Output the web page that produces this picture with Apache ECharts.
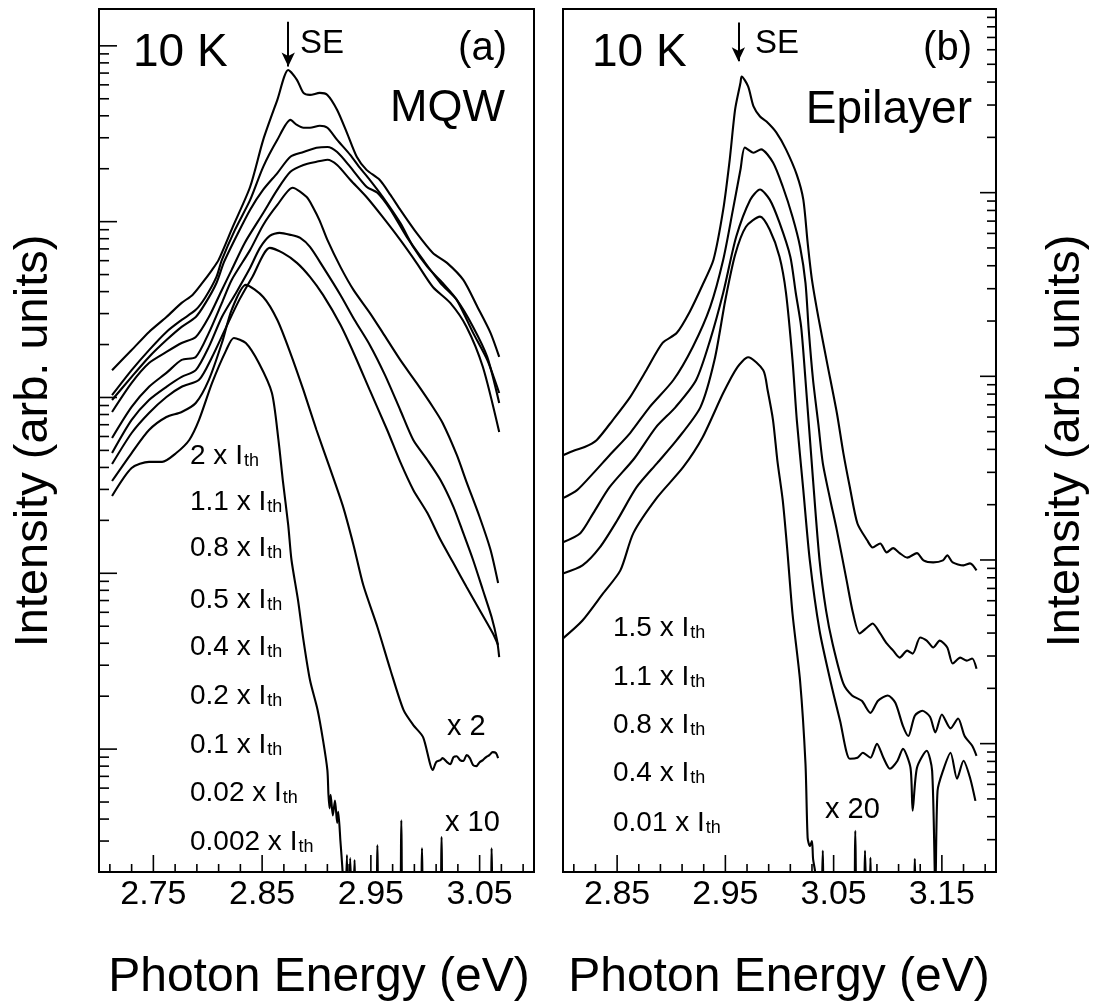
<!DOCTYPE html>
<html>
<head>
<meta charset="utf-8">
<script src="https://cdn.jsdelivr.net/npm/echarts@6/dist/echarts.min.js"></script>
<style>
html,body{margin:0;padding:0;background:#fff;}
#chart{width:1099px;height:1004px;}
</style>
</head>
<body>
<div id="chart"></div>
<script>
// ---------------- DATA (photon energy in eV, intensity in arb. units) ----------------
// Panel (a): MQW, 10 K
const mqw_2x = [[2.712,1430],[2.730,1860],[2.746,2360],[2.762,2870],[2.776,3450],[2.786,3830],[2.795,4480],[2.804,5320],[2.810,6060],[2.823,9340],[2.839,15800],[2.851,29200],[2.864,49300],[2.874,72900],[2.882,64100],[2.888,54000],[2.894,52600],[2.903,54000],[2.910,52600],[2.919,43200],[2.928,32000],[2.937,23400],[2.946,19700],[2.958,17300],[2.968,14200],[2.977,11700],[2.992,8630],[3.007,6640],[3.020,5830],[3.035,4660],[3.048,3270],[3.060,2330],[3.068,1700]];
const mqw_1p1x = [[2.712,1030],[2.730,1430],[2.746,1860],[2.762,2360],[2.776,2760],[2.789,3150],[2.798,3730],[2.808,4850],[2.813,6060],[2.825,8980],[2.839,13300],[2.851,20500],[2.864,29200],[2.876,37900],[2.882,35500],[2.888,34200],[2.894,34200],[2.903,35100],[2.910,34200],[2.919,29200],[2.931,24000],[2.940,20200],[2.949,17300],[2.961,13800],[2.977,9840],[2.989,7180],[3.002,5530],[3.016,4480],[3.029,3590],[3.044,2330],[3.057,1635],[3.068,1060]];
const mqw_0p8x = [[2.712,968],[2.730,1310],[2.746,1700],[2.762,2120],[2.776,2520],[2.789,2870],[2.798,3450],[2.808,4480],[2.815,5900],[2.827,8410],[2.839,11700],[2.851,15200],[2.864,18900],[2.876,23400],[2.888,24900],[2.900,26300],[2.910,26600],[2.919,24900],[2.931,20500],[2.946,15800],[2.956,14600],[2.968,11700],[2.983,8190],[2.998,6060],[3.014,4480],[3.029,3590],[3.044,2520],[3.057,1700],[3.068,930]];
const mqw_0p5x = [[2.712,827],[2.730,1210],[2.746,1570],[2.762,1815],[2.776,2040],[2.789,2210],[2.801,2870],[2.813,4090],[2.822,5320],[2.834,7570],[2.851,11200],[2.864,15200],[2.876,19200],[2.888,21000],[2.900,21900],[2.910,22500],[2.919,21000],[2.931,17300],[2.946,13800],[2.961,10600],[2.977,7870],[2.992,5830],[3.007,4250],[3.023,3450],[3.038,2520],[3.053,1490],[3.068,636]];
const mqw_0p4x = [[2.712,588],[2.730,883],[2.746,1150],[2.762,1380],[2.776,1635],[2.789,1700],[2.801,2330],[2.813,3450],[2.822,4660],[2.839,6910],[2.851,9580],[2.864,12450],[2.878,15600],[2.891,13800],[2.897,12000],[2.903,10100],[2.910,7870],[2.922,5530],[2.934,4090],[2.949,3030],[2.961,2330],[2.977,1635],[2.992,1210],[3.007,883],[3.016,716],[3.029,471],[3.038,330],[3.050,209],[3.060,136],[3.067,88]];
const mqw_0p2x = [[2.712,483],[2.730,745],[2.746,968],[2.762,1150],[2.776,1310],[2.789,1430],[2.801,1940],[2.813,2870],[2.826,3930],[2.838,5320],[2.848,7090],[2.857,8300],[2.866,8630],[2.876,8410],[2.885,8080],[2.894,7180],[2.906,5530],[2.922,3830],[2.935,2760],[2.949,1990],[2.963,1340],[2.977,849],[2.989,573],[3.002,441],[3.014,339],[3.026,238],[3.035,169],[3.044,119],[3.053,80.3],[3.061,56.4],[3.066,41.7],[3.068,33.4]];
const mqw_0p1x = [[2.712,418],[2.730,628],[2.746,816],[2.762,1006],[2.776,1150],[2.792,1260],[2.804,1700],[2.817,2520],[2.829,3590],[2.841,4850],[2.857,7090],[2.869,6640],[2.882,5830],[2.894,4850],[2.906,3830],[2.922,2590],[2.935,1745],[2.949,1100],[2.965,653],[2.977,430],[2.989,298],[3.002,220],[3.014,155],[3.026,114],[3.038,83.5],[3.050,61.8],[3.062,45.7],[3.067,39.1]];
// 0.02 x Ith, multiplied by 2
const mqw_0p02x = [[2.712,335],[2.730,483],[2.746,653],[2.762,774],[2.776,827],[2.789,930],[2.801,1260],[2.813,2040],[2.822,3150],[2.835,4370],[2.851,3730],[2.864,2760],[2.876,1790],[2.888,1100],[2.900,653],[2.912,402],[2.924,244],[2.934,145],[2.943,85.7],[2.956,49.5],[2.968,28.2],[2.980,16.7],[2.989,13.7],[2.998,11.7],[3.007,7.60],[3.010,8.43],[3.014,8.66],[3.016,8.89],[3.020,8.43],[3.023,8.20],[3.026,9.01],[3.029,9.10],[3.032,8.66],[3.035,8.55],[3.038,9.24],[3.041,8.89],[3.044,8.11],[3.047,8.00],[3.050,8.43],[3.053,8.66],[3.056,9.01],[3.059,9.24],[3.062,9.61],[3.065,9.50],[3.067,8.89]];
// 0.002 x Ith, multiplied by 10
const mqw_0p002x = [[2.712,275],[2.730,397],[2.746,430],[2.758,430],[2.771,483],[2.783,573],[2.792,745],[2.804,1210],[2.817,1860],[2.824,2180],[2.835,2040],[2.847,1570],[2.859,1060],[2.865,573],[2.869,339],[2.874,188],[2.877,119],[2.883,70.4],[2.888,41.7],[2.894,24.7],[2.901,16.7],[2.906,11.25],[2.910,7.6],[2.911,5.5],[2.912,4.6],[2.913,5.5],[2.915,4.2],[2.917,5.1],[2.919,3.8],[2.920,4.4],[2.922,3.0],[2.924,2.0],[2.926,1.0],[2.928,2.5],[2.929,1.0],[2.931,2.4],[2.933,1.0],[2.935,2.34],[2.937,1.0],[2.954,1.0],[2.956,2.84],[2.958,1.0],[2.976,1.0],[2.978,3.94],[2.980,1.0],[2.995,1.0],[2.997,2.73],[2.999,1.0],[3.013,1.0],[3.015,3.16],[3.017,1.0],[3.060,1.0],[3.061,2.73],[3.063,1.0],[3.068,1.0]];

// Panel (b): Epilayer, 10 K
const epi_1p5x = [[2.800,372],[2.811,396],[2.820,412],[2.831,449],[2.846,578],[2.862,771],[2.877,1080],[2.892,1520],[2.905,1720],[2.917,2240],[2.929,3150],[2.939,4310],[2.948,8080],[2.954,15100],[2.959,28400],[2.964,39800],[2.965,42900],[2.971,37900],[2.976,29500],[2.982,26000],[2.988,24400],[2.997,21300],[3.006,17200],[3.016,12500],[3.022,9160],[3.026,5340],[3.030,3350],[3.036,2080],[3.044,1180],[3.053,631],[3.059,382],[3.065,249],[3.072,158],[3.081,128],[3.086,117],[3.093,123],[3.099,110],[3.105,116],[3.111,109],[3.118,103],[3.127,109],[3.133,99.5],[3.142,97.0],[3.151,99.5],[3.155,106],[3.160,97.0],[3.170,93.4],[3.176,95.8],[3.182,87.8]];
const epi_1p1x = [[2.800,217],[2.813,240],[2.828,297],[2.843,372],[2.862,491],[2.880,680],[2.902,955],[2.920,1450],[2.936,2390],[2.948,4310],[2.957,8080],[2.964,13400],[2.968,17600],[2.976,16500],[2.983,17200],[2.994,14600],[3.003,10800],[3.012,7400],[3.019,5080],[3.024,3230],[3.027,1790],[3.031,955],[3.036,542],[3.040,337],[3.047,211],[3.053,145],[3.062,77.4],[3.068,51.1],[3.074,39.8],[3.081,42.9],[3.086,45.1],[3.093,39.8],[3.099,35.1],[3.105,32.1],[3.111,29.4],[3.118,32.1],[3.123,30.9],[3.130,37.8],[3.136,36.4],[3.142,33.4],[3.148,36.4],[3.155,33.4],[3.160,27.3],[3.167,29.4],[3.173,28.3],[3.178,29.1],[3.182,25.6]];
const epi_0p8x = [[2.800,125],[2.816,140],[2.828,180],[2.843,249],[2.866,358],[2.886,529],[2.904,680],[2.923,955],[2.936,1580],[2.948,2850],[2.960,5750],[2.973,9160],[2.982,10400],[2.991,9160],[3.000,6860],[3.010,4480],[3.015,2850],[3.020,1860],[3.024,955],[3.031,272],[3.037,99.5],[3.043,53.1],[3.049,35.1],[3.059,21.2],[3.067,18.3],[3.076,17.1],[3.084,14.7],[3.091,17.1],[3.100,18.3],[3.107,16.7],[3.114,12.5],[3.119,11.0],[3.125,14.2],[3.132,15.1],[3.139,14.0],[3.144,11.5],[3.150,14.4],[3.158,12.1],[3.165,13.7],[3.171,11.0],[3.178,9.74],[3.182,8.59]];
const epi_0p4x = [[2.800,84.5],[2.818,93.4],[2.834,117],[2.850,164],[2.868,249],[2.887,337],[2.905,449],[2.927,680],[2.940,1230],[2.950,2610],[2.959,4590],[2.969,6520],[2.982,7400],[2.991,6280],[3.000,4480],[3.006,2850],[3.012,1230],[3.016,578],[3.022,240],[3.028,99.5],[3.037,41.3],[3.047,22.0],[3.056,13.3],[3.065,8.27],[3.072,8.38],[3.077,8.92],[3.084,8.38],[3.090,9.99],[3.096,8.38],[3.102,7.30],[3.109,8.07],[3.114,9.38],[3.121,7.39],[3.123,4.31],[3.127,7.39],[3.136,9.15],[3.141,7.11],[3.144,1.6],[3.146,5.54],[3.151,7.11],[3.158,8.92],[3.164,6.44],[3.170,8.07],[3.176,6.52],[3.181,4.88]];
// 0.01 x Ith, multiplied by 20
const epi_0p01x = [[2.800,37.4],[2.818,46.8],[2.837,65.7],[2.853,87.8],[2.865,140],[2.887,219],[2.911,320],[2.929,466],[2.948,811],[2.961,1120],[2.971,1270],[2.985,1080],[2.989,842],[2.994,578],[2.998,349],[3.003,211],[3.007,117],[3.012,51.1],[3.019,22.0],[3.024,7.77],[3.026,3.07],[3.028,2.77],[3.030,2.95],[3.031,2.36],[3.033,1.98],[3.035,1.0],[3.038,1.0],[3.040,2.61],[3.042,1.0],[3.068,1.0],[3.070,3.35],[3.072,1.0],[3.077,1.0],[3.079,2.61],[3.081,1.0],[3.083,1.0],[3.084,2.39],[3.086,1.0],[3.123,1.0],[3.125,2.36],[3.127,1.0],[3.182,1.0]];

// Curve labels, tick labels, annotations
const labelsMQW = ['2', '1.1', '0.8', '0.5', '0.4', '0.2', '0.1', '0.02', '0.002'];
const labelsEpi = ['1.5', '1.1', '0.8', '0.4', '0.01'];
const xTickLabelsA = ['2.75', '2.85', '2.95', '3.05'];
const xTickLabelsB = ['2.85', '2.95', '3.05', '3.15'];
const seArrowA = [2.874, 137000, 76200];  // energy, arrow tail, arrow tip
const seArrowB = [2.962, 84400, 52000];

// ---------------- CHART ----------------
const FONT = "'Liberation Sans', Arial, Helvetica, sans-serif";
const rangeA = {xMin: 2.70, xMax: 3.10, yMin: 2, yMax: 162000};
const rangeB = {xMin: 2.80, xMax: 3.20, yMin: 2, yMax: 100000};

function logTicks(lo, hi) {
  const out = [];
  for (let k = 0; k <= 6; k++) {
    for (let m = 1; m <= 9; m++) {
      const v = m * Math.pow(10, k);
      if (v >= lo * 0.999 && v <= hi * 1.001) out.push([v, m === 1 ? 1 : 0]);
    }
  }
  return out;
}
function energyTicks(from, to) { // in hundredths of eV
  const out = [];
  for (let i = from; i <= to; i += 2) out.push([i / 100, i % 10 === 5 ? 1 : 0]);
  return out;
}
const yTicksA = logTicks(rangeA.yMin, rangeA.yMax).map(t => [rangeA.xMin, t[0], t[1]]);
const yTicksB = logTicks(rangeB.yMin, rangeB.yMax).map(t => [rangeB.xMax, t[0], t[1]]);
const xTicksA = energyTicks(271, 309).map(t => [t[0], rangeA.yMin, t[1]]);
const xTicksB = energyTicks(281, 319).map(t => [t[0], rangeB.yMin, t[1]]);

function yTickRenderer(majorLen, minorLen, dir) {
  return function (params, api) {
    const p = api.coord([api.value(0), api.value(1)]);
    const L = api.value(2) ? majorLen : minorLen;
    return {type: 'line', shape: {x1: p[0], y1: p[1], x2: p[0] + dir * L, y2: p[1]},
            style: {stroke: '#000', lineWidth: 1.6}};
  };
}
function xTickRenderer(majorLen, minorLen) {
  return function (params, api) {
    const p = api.coord([api.value(0), api.value(1)]);
    const L = api.value(2) ? majorLen : minorLen;
    return {type: 'line', shape: {x1: p[0], y1: p[1], x2: p[0], y2: p[1] - L},
            style: {stroke: '#000', lineWidth: 1.6}};
  };
}

function curve(data, gi, extra) {
  return Object.assign({
    type: 'line', xAxisIndex: gi, yAxisIndex: gi, data: data,
    showSymbol: false, symbol: 'none', smooth: 0.25, clip: true, silent: true,
    lineStyle: {color: '#000', width: 2.1}, animation: false
  }, extra || {});
}
function arrowMark(a) {
  return {
    silent: true, animation: false, symbol: ['none', 'arrow'], symbolSize: [10, 14],
    label: {show: false}, lineStyle: {color: '#000', width: 2, type: 'solid'},
    data: [[{coord: [a[0], a[1]]}, {coord: [a[0], a[2]]}]]
  };
}

function xAxisCfg(gi, r, labels) {
  return {
    type: 'value', gridIndex: gi, min: r.xMin, max: r.xMax, interval: 0.05,
    axisLine: {show: false}, axisTick: {show: false}, splitLine: {show: false},
    axisLabel: {
      color: '#000', fontSize: 34, fontFamily: FONT, margin: 6,
      formatter: v => labels.indexOf(v.toFixed(2)) >= 0 ? v.toFixed(2) : ''
    }
  };
}
function yAxisCfg(gi, r, pos) {
  return {
    type: 'log', logBase: 10, gridIndex: gi, position: pos, min: r.yMin, max: r.yMax,
    axisLine: {show: false}, axisTick: {show: false}, axisLabel: {show: false}, splitLine: {show: false}
  };
}

// text helpers
function txt(s, x, y, size, align) {
  return {type: 'text', x: x, y: y, silent: true,
          style: {text: s, fontSize: size, fontFamily: FONT, fill: '#000', align: align || 'left', verticalAlign: 'middle'}};
}
const richLab = {
  m: {fontSize: 28, lineHeight: 28, fontFamily: FONT, fill: '#000', verticalAlign: 'top'},
  s: {fontSize: 18, lineHeight: 18, fontFamily: FONT, fill: '#000', verticalAlign: 'bottom', padding: [16, 0, 0, 1]}
};
function ithLabel(factor, x, capMid) {
  return {type: 'text', x: x, y: capMid - 14, silent: true,
          style: {text: '{m|' + factor + ' x I}{s|th}', rich: richLab, fill: '#000', align: 'left', verticalAlign: 'top'}};
}

const capMidA = [456.5, 502.5, 548.5, 600, 647.5, 696, 745, 793.5, 842];
const capMidB = [628, 677, 725, 773, 823];

const graphics = [
  txt('10 K', 133, 53.5, 46), txt('SE', 300, 43.5, 33), txt('(a)', 507, 49, 40, 'right'), txt('MQW', 505, 109, 45, 'right'),
  txt('10 K', 592, 53.5, 46), txt('SE', 755, 43.5, 33), txt('(b)', 972, 49, 40, 'right'), txt('Epilayer', 972, 110.5, 46, 'right'),
  txt('x 2', 447, 727, 29), txt('x 10', 445, 823, 29), txt('x 20', 825, 810, 29),
  txt('Photon Energy (eV)', 319, 978, 48, 'center'), txt('Photon Energy (eV)', 779, 978, 48, 'center'),
  Object.assign(txt('Intensity (arb. units)', 34, 441, 47, 'center'), {rotation: Math.PI / 2}),
  Object.assign(txt('Intensity (arb. units)', 1066, 441, 47, 'center'), {rotation: Math.PI / 2})
];
labelsMQW.forEach((f, i) => graphics.push(ithLabel(f, 190, capMidA[i])));
labelsEpi.forEach((f, i) => graphics.push(ithLabel(f, 613, capMidB[i])));

const option = {
  backgroundColor: '#fff',
  animation: false,
  grid: [
    {left: 99, top: 9, width: 435, height: 863, show: true, borderColor: '#000', borderWidth: 2, backgroundColor: 'transparent', containLabel: false, outerBoundsMode: 'none'},
    {left: 563, top: 9, width: 433, height: 863, show: true, borderColor: '#000', borderWidth: 2, backgroundColor: 'transparent', containLabel: false, outerBoundsMode: 'none'}
  ],
  xAxis: [xAxisCfg(0, rangeA, xTickLabelsA), xAxisCfg(1, rangeB, xTickLabelsB)],
  yAxis: [yAxisCfg(0, rangeA, 'left'), yAxisCfg(1, rangeB, 'right')],
  series: [
    curve(mqw_2x, 0, {markLine: arrowMark(seArrowA)}),
    curve(mqw_1p1x, 0), curve(mqw_0p8x, 0), curve(mqw_0p5x, 0), curve(mqw_0p4x, 0),
    curve(mqw_0p2x, 0), curve(mqw_0p1x, 0), curve(mqw_0p02x, 0), curve(mqw_0p002x, 0),
    curve(epi_1p5x, 1, {markLine: arrowMark(seArrowB)}),
    curve(epi_1p1x, 1), curve(epi_0p8x, 1), curve(epi_0p4x, 1), curve(epi_0p01x, 1),
    {type: 'custom', xAxisIndex: 0, yAxisIndex: 0, data: yTicksA, renderItem: yTickRenderer(18, 10, 1), silent: true, clip: false, animation: false},
    {type: 'custom', xAxisIndex: 1, yAxisIndex: 1, data: yTicksB, renderItem: yTickRenderer(16, 9, -1), silent: true, clip: false, animation: false},
    {type: 'custom', xAxisIndex: 0, yAxisIndex: 0, data: xTicksA, renderItem: xTickRenderer(17, 8), silent: true, clip: false, animation: false},
    {type: 'custom', xAxisIndex: 1, yAxisIndex: 1, data: xTicksB, renderItem: xTickRenderer(17, 8), silent: true, clip: false, animation: false}
  ],
  graphic: graphics
};

const chart = echarts.init(document.getElementById('chart'), null, {renderer: 'canvas', width: 1099, height: 1004});
chart.setOption(option);
</script>
</body>
</html>
